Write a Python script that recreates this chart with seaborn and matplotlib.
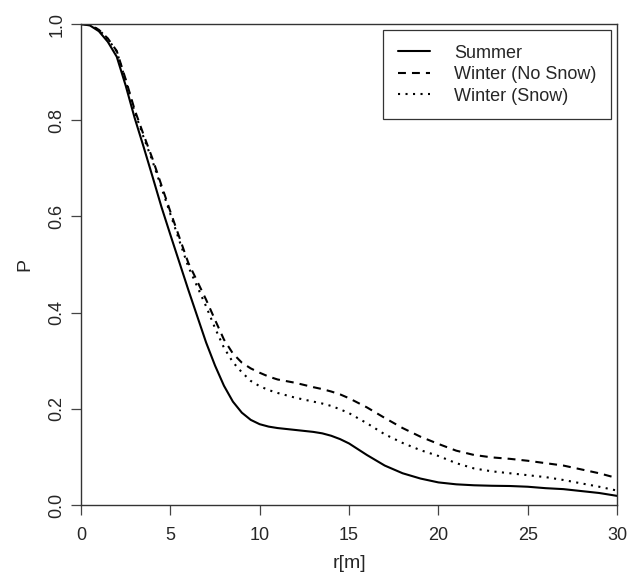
import numpy as np
import pandas as pd
import matplotlib
matplotlib.use("Agg")
import matplotlib.pyplot as plt
import seaborn as sns

# Data (denser where the curves bend)
r = [0, 0.5, 1, 1.5, 2, 2.5, 3, 3.5, 4, 4.5, 5, 5.5, 6, 7, 7.5, 8, 8.5,
     9, 9.5, 10, 10.5, 11, 12, 13, 13.5, 14, 14.5, 15, 16, 17, 18, 19, 20,
     21, 22, 23, 24, 25, 26, 27, 28, 29, 30]
summer = [1.0, 0.997, 0.985, 0.963, 0.932, 0.872, 0.805, 0.745, 0.683,
          0.62, 0.562, 0.505, 0.448, 0.338, 0.29, 0.248, 0.215,
          0.192, 0.177, 0.168, 0.163, 0.16, 0.156, 0.152, 0.149, 0.144,
          0.137, 0.128, 0.104, 0.082, 0.066, 0.055, 0.047,
          0.043, 0.041, 0.040, 0.0395, 0.038, 0.035, 0.033, 0.029, 0.025,
          0.019]
winter_no_snow = [1.0, 0.998, 0.988, 0.97, 0.944, 0.885, 0.822, 0.77, 0.72,
                  0.665, 0.61, 0.557, 0.504, 0.427, 0.385, 0.344, 0.315,
                  0.296, 0.284, 0.275, 0.267, 0.261, 0.254, 0.245, 0.241,
                  0.236, 0.23, 0.222, 0.203, 0.181, 0.16, 0.142, 0.127,
                  0.113, 0.104, 0.099, 0.096, 0.092, 0.087, 0.082, 0.074,
                  0.066, 0.056]
winter_snow = [1.0, 0.998, 0.988, 0.969, 0.943, 0.882, 0.818, 0.765, 0.715,
               0.66, 0.605, 0.55, 0.496, 0.413, 0.368, 0.327, 0.297,
               0.276, 0.258, 0.247, 0.239, 0.233, 0.223, 0.215, 0.211,
               0.206, 0.199, 0.191, 0.17, 0.147, 0.129, 0.114, 0.102,
               0.087, 0.076, 0.07, 0.066, 0.062, 0.058, 0.052, 0.045,
               0.038, 0.03]
series_names = ["Summer", "Winter (No Snow)", "Winter (Snow)"]
x_ticks = [0, 5, 10, 15, 20, 25, 30]
y_ticks = [0.0, 0.2, 0.4, 0.6, 0.8, 1.0]

df = pd.DataFrame({
    "r": r * 3,
    "P": summer + winter_no_snow + winter_snow,
    "series": np.repeat(series_names, len(r)),
})

sns.set_style("ticks")
plt.rcParams["font.family"] = ["Liberation Sans", "DejaVu Sans"]

fig = plt.figure(figsize=(6.28, 5.8), dpi=100)
ax = fig.add_axes([0.129, 0.1293, 0.8535, 0.8293])

sns.lineplot(
    data=df, x="r", y="P", style="series", style_order=series_names,
    dashes=["", (3.8, 2.9), (1, 2.6)], color="black", linewidth=1.5,
    ax=ax,
)

ax.set_xlim(0, 30)
ax.set_ylim(0, 1)
ax.set_xticks(x_ticks)
ax.set_yticks(y_ticks)
ax.set_xticklabels([str(t) for t in x_ticks])
ax.set_yticklabels([f"{t:.1f}" for t in y_ticks], rotation=90, va="center")
ax.tick_params(axis="both", labelsize=13, length=7, width=0.9,
               color="#444444", direction="out")
ax.tick_params(axis="x", pad=9)
ax.tick_params(axis="y", pad=4)
for s in ax.spines.values():
    s.set_visible(True)
    s.set_color("#333333")
    s.set_linewidth(1.0)

ax.set_xlabel("r[m]", fontsize=14, labelpad=8)
ax.set_ylabel("P", fontsize=14, labelpad=11)

# Legend box like the R one
handles, labels = ax.get_legend_handles_labels()
leg = ax.legend(handles, labels, loc="upper right", fontsize=13,
                frameon=True, fancybox=False, framealpha=1,
                edgecolor="#333333", handlelength=1.8, handletextpad=1.3,
                borderpad=0.8, labelspacing=0.25, borderaxespad=0.35)
leg.get_frame().set_linewidth(0.9)

plt.savefig("out.png", dpi=100)
plt.close()
